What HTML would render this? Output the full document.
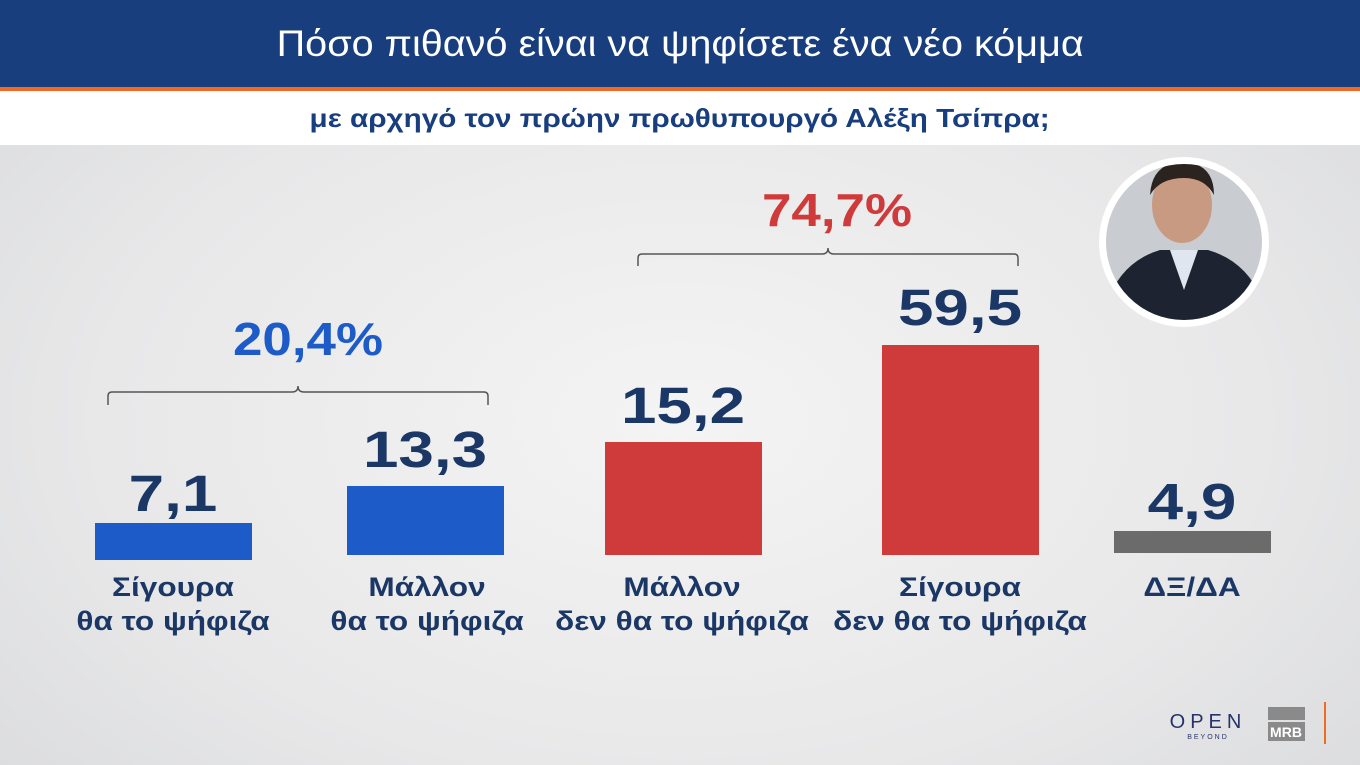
<!DOCTYPE html>
<html><head><meta charset="utf-8"><style>
body{margin:0;width:1360px;height:765px;overflow:hidden;position:relative;font-family:"Liberation Sans","DejaVu Sans",sans-serif;background:radial-gradient(ellipse at 50% 55%,#f4f4f4 0%,#e8e8e9 60%,#d9dadc 100%);}
.hdr{position:absolute;left:0;top:0;width:1360px;height:87px;background:#183e7e;color:#fff;font-size:37px;text-align:center;line-height:87px;}
.hdr span,.sub span{display:inline-block;}
.or{position:absolute;left:0;top:87px;width:1360px;height:4px;background:#f26a21;}
.sub{position:absolute;left:0;top:91px;width:1360px;height:54px;background:#fff;color:#183e7e;font-weight:bold;font-size:26px;text-align:center;line-height:54px;}
.bar{position:absolute;}
.v{position:absolute;width:260px;text-align:center;font-weight:bold;font-size:51px;line-height:58px;color:#1b3766;transform:scaleX(1.25);}
.l{position:absolute;width:300px;text-align:center;font-weight:bold;font-size:27px;line-height:34px;color:#1b3766;transform:scaleX(1.17);}
.p{position:absolute;width:300px;text-align:center;font-weight:bold;font-size:46px;transform:scaleX(1.15);}
</style></head><body>
<div class="hdr"><span style="transform:scaleX(1.07)">Πόσο πιθανό είναι να ψηφίσετε ένα νέο κόμμα</span></div>
<div class="or"></div>
<div class="sub"><span style="transform:scaleX(1.14)">με αρχηγό τον πρώην πρωθυπουργό Αλέξη Τσίπρα;</span></div>

<svg style="position:absolute;left:0;top:0" width="1360" height="765">
<path d="M108,405 V396 Q108,392 112,392 H292 Q298,392 298,386 Q298,392 304,392 H484 Q488,392 488,396 V405" fill="none" stroke="#555" stroke-width="1.5"/>
<path d="M638,266 V258 Q638,254 642,254 H822 Q828,254 828,248 Q828,254 834,254 H1014 Q1018,254 1018,258 V266" fill="none" stroke="#555" stroke-width="1.5"/>
<circle cx="1184" cy="242" r="85" fill="#fff"/>
<circle cx="1184" cy="242" r="78" fill="#c9ccd0"/>
<clipPath id="c"><circle cx="1184" cy="242" r="78"/></clipPath>
<g clip-path="url(#c)">
<path d="M1100,330 Q1110,265 1160,250 L1208,250 Q1260,265 1270,330 Z" fill="#1d2330"/>
<ellipse cx="1182" cy="205" rx="30" ry="38" fill="#c99a82"/>
<path d="M1150,195 Q1152,162 1184,162 Q1214,164 1214,195 Q1205,178 1184,178 Q1160,178 1150,195Z" fill="#2a2320"/>
<path d="M1170,250 L1184,290 L1198,250Z" fill="#dfe6f0"/>
</g>
<rect x="1324" y="702" width="2" height="42" fill="#f26a21"/>
<rect x="1268" y="707" width="37" height="13" fill="#8a8a8a"/>
<rect x="1268" y="722" width="37" height="19" fill="#8a8a8a"/>
<text x="1286" y="737" fill="#fff" font-size="14" font-weight="bold" text-anchor="middle" font-family="Liberation Sans">MRB</text>
<text x="1208" y="728" fill="#27336b" font-size="20" text-anchor="middle" letter-spacing="5" font-family="Liberation Sans">OPEN</text>
<text x="1208" y="739" fill="#27336b" font-size="7" text-anchor="middle" letter-spacing="2" font-family="Liberation Sans">BEYOND</text>
</svg>

<div class="bar" style="left:95px;top:523px;width:157px;height:37px;background:#1d5cc8"></div>
<div class="bar" style="left:347px;top:486px;width:157px;height:69px;background:#1d5cc8"></div>
<div class="bar" style="left:605px;top:442px;width:157px;height:113px;background:#cf3b3b"></div>
<div class="bar" style="left:882px;top:345px;width:157px;height:210px;background:#cf3b3b"></div>
<div class="bar" style="left:1114px;top:531px;width:157px;height:22px;background:#6b6b6b"></div>

<div class="v" style="left:43px;top:465px">7,1</div>
<div class="v" style="left:295px;top:421px">13,3</div>
<div class="v" style="left:553px;top:377px">15,2</div>
<div class="v" style="left:830px;top:279px">59,5</div>
<div class="v" style="left:1062px;top:473px">4,9</div>

<div class="p" style="left:158px;top:312px;color:#1d5cc8">20,4%</div>
<div class="p" style="left:687px;top:183px;color:#cf3b3b">74,7%</div>

<div class="l" style="left:23px;top:570px">Σίγουρα<br>θα το ψήφιζα</div>
<div class="l" style="left:277px;top:570px">Μάλλον<br>θα το ψήφιζα</div>
<div class="l" style="left:532px;top:570px">Μάλλον<br>δεν θα το ψήφιζα</div>
<div class="l" style="left:810px;top:570px">Σίγουρα<br>δεν θα το ψήφιζα</div>
<div class="l" style="left:1042px;top:570px">ΔΞ/ΔΑ</div>
</body></html>
